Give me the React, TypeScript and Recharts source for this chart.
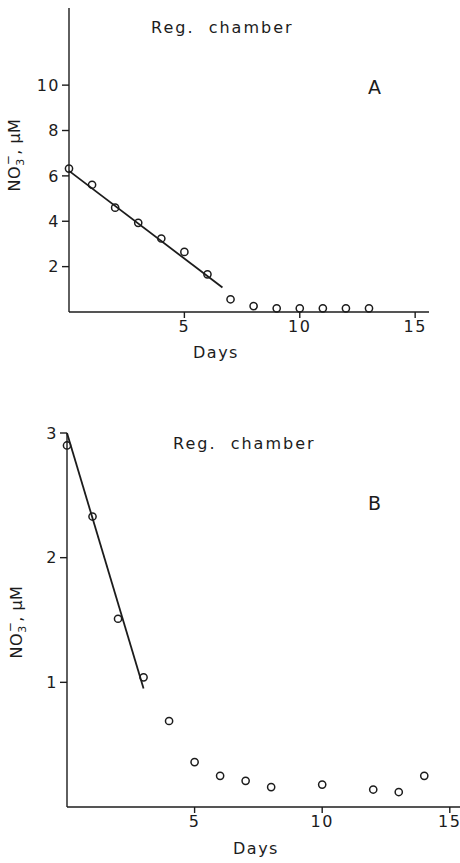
import React from 'react';
import { ComposedChart, Scatter, Line, XAxis, YAxis } from 'recharts';

// panel A: NO3 in the reg. chamber, daily samples
const daysA = [0, 1, 2, 3, 4, 5, 6, 7, 8, 9, 10, 11, 12, 13];
const no3A = [6.32, 5.61, 4.6, 3.93, 3.24, 2.65, 1.66, 0.56, 0.26, 0.16, 0.16, 0.16, 0.16, 0.16];
const fitDaysA = [0, 6.65];
const fitA = [6.22, 1.08];

// panel B
const daysB = [0, 1, 2, 3, 4, 5, 6, 7, 8, 10, 12, 13, 14];
const no3B = [2.9, 2.33, 1.51, 1.04, 0.69, 0.36, 0.25, 0.21, 0.16, 0.18, 0.14, 0.12, 0.25];
const fitDaysB = [0, 3];
const fitB = [3.0, 0.95];

const xTicks = [5, 10, 15];
const yTicksA = [2, 4, 6, 8, 10];
const yTicksB = [1, 2, 3];

const ink = '#1c1c1c';
const font = '"DejaVu Sans", sans-serif';

const toPoints = (xs: number[], ys: number[]) => xs.map((x, i) => ({ x, y: ys[i] }));

const Ring = (props: any) => (
  <circle cx={props.cx} cy={props.cy} r={3.6} fill="none" stroke={ink} strokeWidth={1.5} />
);

const No3Label = ({ cx, cy }: { cx: number; cy: number }) => (
  <text
    x={cx}
    y={cy}
    transform={`rotate(-90 ${cx} ${cy})`}
    textAnchor="middle"
    fontSize={16}
    fontFamily={font}
    fill={ink}
    letterSpacing={0.5}
  >
    NO<tspan fontSize={11} dy={4}>3</tspan>
    <tspan fontSize={12} dx={-7} dy={-12}>−</tspan>
    <tspan dy={8}>, μM</tspan>
  </text>
);

const tickStyle = { fontSize: 16, fontFamily: font, fill: ink, letterSpacing: 1.5 };

const note = (left: number, top: number, text: string, size: number, spacing = 2) => (
  <div
    style={{
      position: 'absolute',
      left,
      top,
      fontFamily: font,
      fontSize: size,
      color: ink,
      letterSpacing: spacing,
      whiteSpace: 'pre',
      lineHeight: 1,
    }}
  >
    {text}
  </div>
);

export default function App() {
  const ptsA = toPoints(daysA, no3A);
  const lineA = toPoints(fitDaysA, fitA);
  const ptsB = toPoints(daysB, no3B);
  const lineB = toPoints(fitDaysB, fitB);

  return (
    <div style={{ position: 'absolute', left: 0, top: 0, width: 460, height: 863, background: '#fff' }}>
      <div style={{ position: 'absolute', left: 0, top: 0 }}>
        <ComposedChart width={460} height={370} margin={{ top: 8, right: 31, bottom: 28, left: 29 }}>
          <XAxis
            dataKey="x"
            type="number"
            domain={[0, 15.6]}
            ticks={xTicks}
            stroke={ink}
            strokeWidth={1.4}
            tickSize={6}
            tickMargin={3}
            tick={tickStyle}
            height={30}
          />
          <YAxis
            dataKey="y"
            type="number"
            domain={[0, 13.4]}
            ticks={yTicksA}
            stroke={ink}
            strokeWidth={1.4}
            tickSize={7}
            tickMargin={2}
            tick={tickStyle}
            width={40}
            label={{ content: () => <No3Label cx={20} cy={155} /> }}
          />
          <Line data={lineA} dataKey="y" stroke={ink} strokeWidth={1.8} dot={false} isAnimationActive={false} />
          <Scatter data={ptsA} dataKey="y" shape={<Ring />} isAnimationActive={false} />
        </ComposedChart>
      </div>
      {note(151, 20, 'Reg.  chamber', 16)}
      {note(368, 78, 'A', 19, 0)}
      {note(193, 345, 'Days', 16, 1.5)}

      <div style={{ position: 'absolute', left: 0, top: 400 }}>
        <ComposedChart width={460} height={463} margin={{ top: 33, right: 0, bottom: 26, left: 27 }}>
          <XAxis
            dataKey="x"
            type="number"
            domain={[0, 15.4]}
            ticks={xTicks}
            stroke={ink}
            strokeWidth={1.4}
            tickSize={6}
            tickMargin={3}
            tick={tickStyle}
            height={30}
          />
          <YAxis
            dataKey="y"
            type="number"
            domain={[0, 3]}
            ticks={yTicksB}
            stroke={ink}
            strokeWidth={1.4}
            tickSize={7}
            tickMargin={2}
            tick={tickStyle}
            width={40}
            label={{ content: () => <No3Label cx={22} cy={222} /> }}
          />
          <Line data={lineB} dataKey="y" stroke={ink} strokeWidth={1.8} dot={false} isAnimationActive={false} />
          <Scatter data={ptsB} dataKey="y" shape={<Ring />} isAnimationActive={false} />
        </ComposedChart>
      </div>
      {note(173, 436, 'Reg.  chamber', 16)}
      {note(368, 494, 'B', 19, 0)}
      {note(233, 841, 'Days', 16, 1.5)}
    </div>
  );
}
